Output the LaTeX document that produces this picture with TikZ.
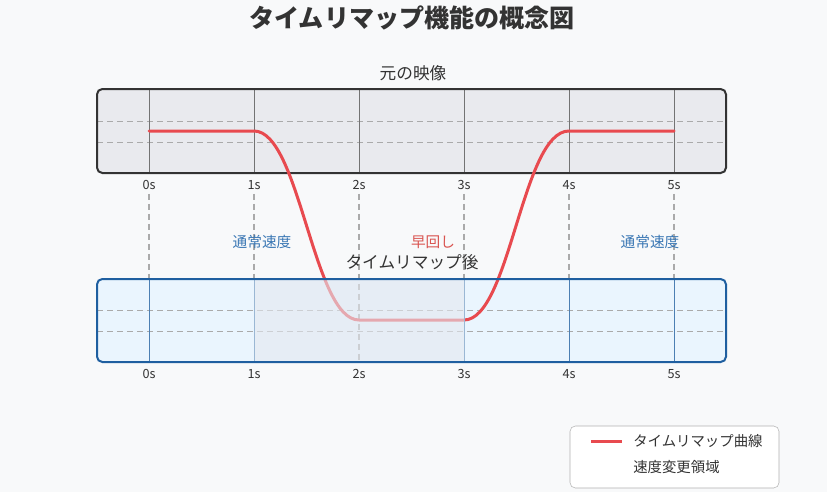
\documentclass[tikz,border=0pt]{standalone}
\usepackage{fontspec}
\setmainfont{Noto Sans CJK JP}
\definecolor{bgcol}{HTML}{F8F9FA}
\definecolor{origfill}{HTML}{E9EAEE}
\definecolor{origline}{HTML}{333333}
\definecolor{remapfill}{HTML}{EAF5FE}
\definecolor{remapline}{HTML}{1F5FA0}
\definecolor{fastfill}{HTML}{E4E8EF}
\definecolor{curvecol}{HTML}{E84A4F}
\definecolor{bluetext}{HTML}{3A77B4}
\definecolor{redtext}{HTML}{D9534F}
\definecolor{gridcol}{HTML}{AAAAAA}
\definecolor{textcol}{HTML}{333333}
\begin{document}
\begin{tikzpicture}[
        x=0.75pt, y=-0.75pt,
        box line/.style={line width=1.5pt, rounded corners=4pt},
        dashed line/.style={dash pattern=on 4.5pt off 3pt, gridcol, line width=0.75pt},
        top tick/.style={color=gray!90!black, line width=0.75pt},
        low tick/.style={color=remapline!80, line width=0.75pt},
        remap curve/.style={curvecol, line width=2.25pt, line cap=round},
        tick label/.style={font=\fontsize{9.5}{11}\selectfont, text=textcol},
        zone label/.style={font=\fontsize{11}{13}\selectfont},
        every node/.style={inner sep=0pt, text=textcol}
        ]
        % background
        \fill[bgcol] (0,0) rectangle (827,492);
        \useasboundingbox (0,0) rectangle (827,492);
        % Titles
        \node (title) at (412,18) {\fontsize{18.8}{22}\bfseries\selectfont タイムリマップ機能の概念図};
        \node (origtitle) at (413,73) {\fontsize{12.5}{14}\selectfont 元の映像};
        % Original clip
        \fill[origfill, rounded corners=4pt] (97,89) rectangle (726,173);
        \draw[dashed line] (97,121) -- (726,121);
        \draw[dashed line] (97,142) -- (726,142);
        \draw[top tick] (149,89) -- (149,173);
        \draw[top tick] (254,89) -- (254,173);
        \draw[top tick] (359,89) -- (359,173);
        \draw[top tick] (464,89) -- (464,173);
        \draw[top tick] (569,89) -- (569,173);
        \draw[top tick] (674,89) -- (674,173);
        \draw[box line, origline] (97,89) rectangle (726,173);
        % Values
        \node[tick label] (t0) at (149,185) {0s};
        \node[tick label] (t1) at (254,185) {1s};
        \node[tick label] (t2) at (359,185) {2s};
        \node[tick label] (t3) at (464,185) {3s};
        \node[tick label] (t4) at (569,185) {4s};
        \node[tick label] (t5) at (674,185) {5s};
        % Remapped clip
        \fill[remapfill, rounded corners=4pt] (97,279) rectangle (726,362);
        \draw[dashed line] (97,310) -- (726,310);
        \draw[dashed line] (97,331) -- (726,331);
        \draw[low tick] (149,279) -- (149,362);
        \draw[low tick] (254,279) -- (254,362);
        \draw[low tick] (464,279) -- (464,362);
        \draw[low tick] (569,279) -- (569,362);
        \draw[low tick] (674,279) -- (674,362);
        % Lines
        \draw[dashed line, line width=1pt] (t0.south) ++(0,4) coordinate (d0) -- (149,279);
        \draw[dashed line, line width=1pt] (t1.south) ++(0,4) coordinate (d1) -- (254,279);
        \draw[dashed line, line width=1pt] (t2.south) ++(0,4) coordinate (d2) -- (359,362);
        \draw[dashed line, line width=1pt] (t3.south) ++(0,4) coordinate (d3) -- (464,279);
        \draw[dashed line, line width=1pt] (t4.south) ++(0,4) coordinate (d4) -- (569,279);
        \draw[dashed line, line width=1pt] (t5.south) ++(0,4) coordinate (d5) -- (674,279);
        % Curve
        \draw[remap curve] (149,131) -- (254,131)
            .. controls (300,131) and (313,320) .. (359,320) -- (464,320)
            .. controls (510,320) and (522,131) .. (569,131) -- (674,131);
        % Fast zone
        \fill[fastfill, fill opacity=0.6] (254,279) rectangle (464,362);
        \draw[low tick, remapline!45] (254,279) -- (254,362);
        \draw[low tick, remapline!45] (464,279) -- (464,362);
        % Box
        \draw[box line, remapline] (97,279) rectangle (726,362);
        \node[tick label] (b0) at (149,374) {0s};
        \node[tick label] (b1) at (254,374) {1s};
        \node[tick label] (b2) at (359,374) {2s};
        \node[tick label] (b3) at (464,374) {3s};
        \node[tick label] (b4) at (569,374) {4s};
        \node[tick label] (b5) at (674,374) {5s};
        % Zones
        \node[zone label, text=bluetext] (normal1) at (262,242) {通常速度};
        \node[zone label, text=redtext] (fast) at (433,242) {早回し};
        \node[zone label, text=bluetext] (normal2) at (650,242) {通常速度};
        \node[font=\fontsize{12.5}{14}\selectfont] (remaptitle) at (412,262) {タイムリマップ後};
        % Legend
        \draw[fill=white, rounded corners=4pt, draw=gray!60] (570,426) rectangle (779,488);
        \coordinate (legA) at (591,441);
        \coordinate (legB) at (622,441);
        \draw[remap curve, line cap=butt] (legA) -- (legB);
        \node[zone label, font=\fontsize{10.8}{13}\selectfont, anchor=west] (legcurve) at (633,441) {タイムリマップ曲線};
        \node[zone label, font=\fontsize{10.8}{13}\selectfont, anchor=west] (legzone) at (633,467) {速度変更領域};
    \end{tikzpicture}
\end{document}
